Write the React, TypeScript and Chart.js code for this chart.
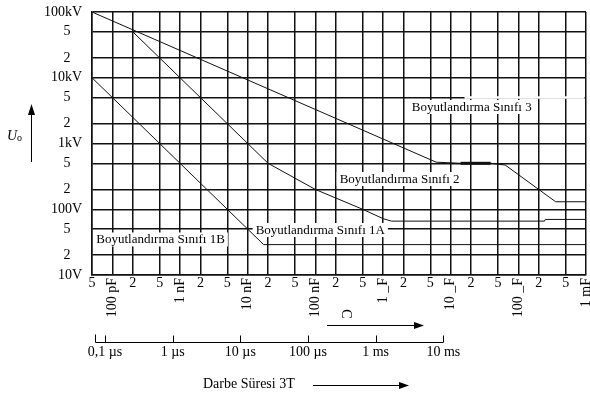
import React, { useEffect, useRef } from "react";
import { Chart, registerables } from "chart.js";
Chart.register(...registerables);

// Capacitance axis (farad) grid values and their labels
const X_TICKS = [5e-11, 1e-10, 2e-10, 5e-10, 1e-9, 2e-9, 5e-9, 1e-8, 2e-8, 5e-8, 1e-7, 2e-7, 5e-7, 1e-6, 2e-6, 5e-6, 1e-5, 2e-5, 5e-5, 1e-4, 2e-4, 5e-4, 1e-3];
const X_TICK_LABELS = ["5", "100 pF", "2", "5", "1 nF", "2", "5", "10 nF", "2", "5", "100 nF", "2", "5", "1 _F", "2", "5", "10 _F", "2", "5", "100 _F", "2", "5", "1 mF"];
// Voltage axis (volt)
const Y_TICKS = [10, 20, 50, 100, 200, 500, 1000, 2000, 5000, 10000, 20000, 50000, 100000];
const Y_TICK_LABELS = ["10V", "2", "5", "100V", "2", "5", "1kV", "2", "5", "10kV", "2", "5", "100kV"];

// Pulse duration 3T axis (seconds)
const TIME_TICKS = [1e-7, 1e-6, 1e-5, 1e-4, 1e-3, 1e-2];
const TIME_LABELS = ["0,1 µs", "1 µs", "10 µs", "100 µs", "1 ms", "10 ms"];
const SECONDS_PER_FARAD = 1285;

// Curves
const CLASS3_C = [5e-11, 6.1e-6, 1.4e-5, 3.9e-5, 6.4e-5, 3.56e-4, 1e-3];
const CLASS3_U = [100000, 520, 500, 500, 470, 130, 130];
const CLASS3_BOLD_C = [1.4e-5, 3.9e-5];
const CLASS3_BOLD_U = [500, 500];
const CLASS2_C = [2e-10, 2e-8, 1e-7, 5e-7, 1e-6, 1.33e-6, 2.44e-4, 2.5e-4, 1e-3];
const CLASS2_U = [50000, 500, 200, 100, 72, 66, 66, 70, 70];
const CLASS1B_C = [5e-11, 1.72e-8, 1e-3];
const CLASS1B_U = [10000, 29, 29];

// Curve labels (anchored at data coordinates)
const LABEL_TEXTS = ["Boyutlandırma Sınıfı 3", "Boyutlandırma Sınıfı 2", "Boyutlandırma Sınıfı 1A", "Boyutlandırma Sınıfı 1B"];
const LABEL_C = [2.66e-6, 2.29e-7, 1.31e-8, 5.79e-11];
const LABEL_U = [3590, 288, 48.3, 34.7];

const SERIF = '"Liberation Serif", "Times New Roman", serif';

const pts = (xs: number[], ys: number[]) => xs.map((v, i) => ({ x: v, y: ys[i] }));

function arrowRight(ctx: CanvasRenderingContext2D, x0: number, x1: number, y: number) {
  ctx.beginPath();
  ctx.moveTo(x0, y);
  ctx.lineTo(x1 - 8, y);
  ctx.stroke();
  ctx.beginPath();
  ctx.moveTo(x1, y);
  ctx.lineTo(x1 - 10, y - 3.5);
  ctx.lineTo(x1 - 10, y + 3.5);
  ctx.closePath();
  ctx.fill();
}

const decor = {
  id: "decor",
  beforeDatasetsDraw(chart: any) {
    const { ctx, chartArea } = chart;
    const x = chart.scales.x;
    const y = chart.scales.y;
    ctx.save();
    // gap in the 5 kV grid line (as in the original drawing)
    const yy = y.getPixelForValue(5000);
    ctx.strokeStyle = "#fff";
    ctx.lineWidth = 2.5;
    ctx.beginPath();
    ctx.moveTo(x.getPixelForValue(1.6e-5), yy);
    ctx.lineTo(chartArea.right - 1.5, yy);
    ctx.stroke();
    // curve labels with white boxes
    ctx.font = "13px " + SERIF;
    ctx.textBaseline = "middle";
    ctx.textAlign = "left";
    LABEL_TEXTS.forEach((t, i) => {
      const px = x.getPixelForValue(LABEL_C[i]);
      const py = y.getPixelForValue(LABEL_U[i]);
      const w = ctx.measureText(t).width;
      ctx.fillStyle = "#fff";
      ctx.fillRect(px - 3, py - 7, w + 6, 14);
      ctx.fillStyle = "#000";
      ctx.fillText(t, px, py + 0.5);
    });
    ctx.restore();
  },
  afterDraw(chart: any) {
    const { ctx, chartArea } = chart;
    const x = chart.scales.x;
    const y = chart.scales.y;
    ctx.save();
    ctx.fillStyle = "#000";
    ctx.strokeStyle = "#000";
    ctx.font = "14px " + SERIF;

    // Y labels
    ctx.textBaseline = "middle";
    Y_TICKS.forEach((v, i) => {
      const t = Y_TICK_LABELS[i];
      const py = y.getPixelForValue(v);
      if (t.length === 1) {
        ctx.textAlign = "center";
        ctx.fillText(t, chartArea.left - 25, py);
      } else {
        ctx.textAlign = "right";
        ctx.fillText(t, chartArea.left - 10, py);
      }
    });

    // X labels
    X_TICKS.forEach((v, i) => {
      const t = X_TICK_LABELS[i];
      const px = x.getPixelForValue(v);
      if (t.length === 1) {
        ctx.textAlign = "center";
        ctx.textBaseline = "middle";
        ctx.fillText(t, px, chartArea.bottom + 8);
      } else {
        ctx.save();
        ctx.translate(px, chartArea.bottom + 3);
        ctx.rotate(-Math.PI / 2);
        ctx.textAlign = "right";
        ctx.textBaseline = "middle";
        ctx.fillText(t, 0, 0);
        ctx.restore();
      }
    });

    // C arrow
    ctx.lineWidth = 1;
    arrowRight(ctx, 327, 424, 325.5);
    ctx.save();
    ctx.translate(346, 314);
    ctx.rotate(Math.PI / 2);
    ctx.textAlign = "center";
    ctx.textBaseline = "middle";
    ctx.fillText("C", 0, 0);
    ctx.restore();

    // Time axis
    const tx = TIME_TICKS.map((t) => x.getPixelForValue(t / SECONDS_PER_FARAD));
    const ay = 342.5;
    const leftEnd = chartArea.left + 3.5;
    ctx.lineWidth = 1;
    ctx.beginPath();
    ctx.moveTo(leftEnd, ay);
    ctx.lineTo(tx[tx.length - 1], ay);
    ctx.moveTo(leftEnd, ay);
    ctx.lineTo(leftEnd, ay - 8);
    tx.forEach((p) => {
      ctx.moveTo(Math.round(p) + 0.5, ay);
      ctx.lineTo(Math.round(p) + 0.5, ay - 7);
    });
    ctx.stroke();
    ctx.textAlign = "center";
    ctx.textBaseline = "middle";
    TIME_LABELS.forEach((t, i) => ctx.fillText(t, tx[i], ay + 10));

    // Darbe Süresi
    ctx.textAlign = "left";
    ctx.fillText("Darbe Süresi 3T", 203, 384);
    arrowRight(ctx, 313, 409, 385.5);

    // U0 with arrow
    ctx.font = "italic 14px " + SERIF;
    ctx.textBaseline = "alphabetic";
    ctx.fillText("U", 7, 140);
    ctx.font = "10px " + SERIF;
    ctx.fillText("o", 17, 141);
    ctx.beginPath();
    ctx.moveTo(31.5, 162);
    ctx.lineTo(31.5, 112);
    ctx.stroke();
    ctx.beginPath();
    ctx.moveTo(31.5, 104);
    ctx.lineTo(28, 115);
    ctx.lineTo(35, 115);
    ctx.closePath();
    ctx.fill();
    ctx.restore();
  },
};

export default function App() {
  const ref = useRef<HTMLCanvasElement>(null);
  useEffect(() => {
    const line = (data: any, width = 1) => ({
      data,
      borderColor: "#111",
      borderWidth: width,
      pointRadius: 0,
      fill: false,
      tension: 0,
    });
    const chart = new Chart(ref.current as HTMLCanvasElement, {
      type: "line",
      data: {
        datasets: [
          { label: "Sınıf 3", ...line(pts(CLASS3_C, CLASS3_U)) },
          { label: "Sınıf 3 (kalın)", ...line(pts(CLASS3_BOLD_C, CLASS3_BOLD_U), 3) },
          { label: "Sınıf 2 / 1A", ...line(pts(CLASS2_C, CLASS2_U)) },
          { label: "Sınıf 1B", ...line(pts(CLASS1B_C, CLASS1B_U)) },
        ],
      },
      options: {
        responsive: false,
        animation: false,
        devicePixelRatio: 1,
        events: [],
        layout: { padding: { left: 92, top: 12, right: 4, bottom: 119 } },
        plugins: { legend: { display: false }, tooltip: { enabled: false } },
        scales: {
          x: {
            type: "logarithmic",
            min: X_TICKS[0],
            max: X_TICKS[X_TICKS.length - 1],
            afterBuildTicks: (s: any) => {
              s.ticks = X_TICKS.map((v) => ({ value: v }));
            },
            ticks: { display: false },
            grid: { color: "#111", lineWidth: 1.5, drawTicks: false },
            border: { display: true, color: "#111", width: 1.5 },
          },
          y: {
            type: "logarithmic",
            min: Y_TICKS[0],
            max: Y_TICKS[Y_TICKS.length - 1],
            afterBuildTicks: (s: any) => {
              s.ticks = Y_TICKS.map((v) => ({ value: v }));
            },
            ticks: { display: false },
            grid: { color: "#111", lineWidth: 1.5, drawTicks: false },
            border: { display: true, color: "#111", width: 1.5 },
          },
        },
      } as any,
      plugins: [decor as any],
    });
    return () => chart.destroy();
  }, []);
  return (
    <div style={{ position: "absolute", left: 0, top: 0, width: 590, height: 394, background: "#fff" }}>
      <canvas ref={ref} width={590} height={394} style={{ display: "block" }} />
    </div>
  );
}
